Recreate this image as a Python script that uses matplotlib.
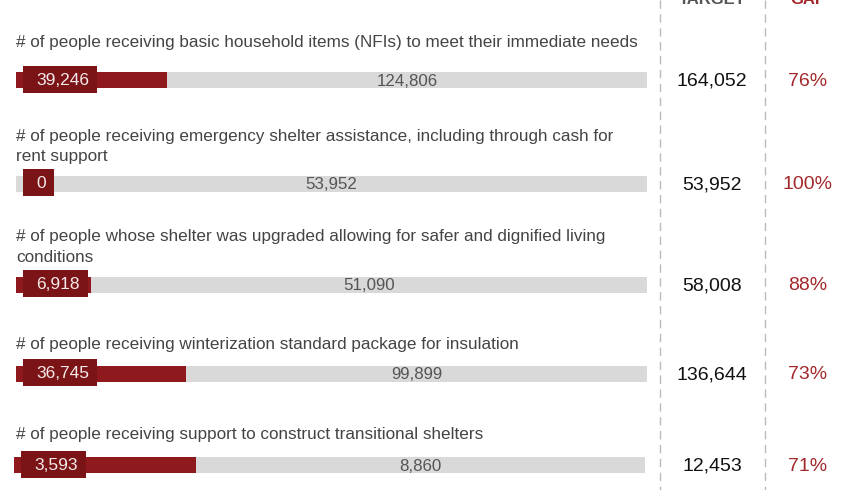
import matplotlib.pyplot as plt
from matplotlib.patches import Rectangle

# Indicator data
indicators = [
    "# of people receiving basic household items (NFIs) to meet their immediate needs",
    "# of people receiving emergency shelter assistance, including through cash for\nrent support",
    "# of people whose shelter was upgraded allowing for safer and dignified living\nconditions",
    "# of people receiving winterization standard package for insulation",
    "# of people receiving support to construct transitional shelters",
]
achieved = [39246, 0, 6918, 36745, 3593]
targets = [164052, 53952, 58008, 136644, 12453]

# layout (pixel coordinates on an 844x490 canvas)
title_y = [43, 146.5, 247, 344, 434]
bar_y = [80.5, 183.5, 284.5, 373.5, 465]
bar_left = [16, 16, 16, 16, 14]
bar_len = 631
bar_h = 16
box_h = 27
target_x = 712
gap_x = 808

RED = "#8e1a1d"
DARK = "#7a1417"
GREY = "#d9d9d9"
GAPRED = "#a3282b"

plt.rcParams["font.family"] = ["Liberation Sans", "DejaVu Sans"]

fig = plt.figure(figsize=(8.44, 4.9), dpi=100)
ax = fig.add_axes([0, 0, 1, 1])
ax.set_xlim(0, 844)
ax.set_ylim(490, 0)
ax.axis("off")
renderer = fig.canvas.get_renderer()

# headers (partly cut off at the top, as in the original)
ax.text(target_x, 7, "TARGET", ha="center", va="bottom", fontsize=12,
        fontweight="bold", color="#555555")
ax.text(gap_x, 7, "GAP", ha="center", va="bottom", fontsize=12,
        fontweight="bold", color=GAPRED)

# dashed separators
for x in [660, 765]:
    ax.plot([x, x], [0, 490], color="#bbbbbb", lw=1, ls=(0, (6, 4)))

for i in range(len(indicators)):
    a = achieved[i]
    t = targets[i]
    remaining = t - a
    frac = a / t
    gap = round(100 * (1 - frac))
    x0 = bar_left[i]

    ax.text(16, title_y[i], indicators[i], ha="left", va="center",
            fontsize=12.3, color="#444444", linespacing=1.45)

    # full target bar and achieved part
    ax.barh(bar_y[i], bar_len, left=x0, height=bar_h, color=GREY)
    ax.barh(bar_y[i], bar_len * frac, left=x0, height=bar_h, color=RED)

    # achieved label box, sized to its text
    lbl = ax.text(0, bar_y[i], f"{a:,}", ha="center", va="center",
                  fontsize=12.5, color="#f4e9e9", zorder=4)
    w = lbl.get_window_extent(renderer).width
    box_w = w + 21
    ax.add_patch(Rectangle((x0 + 7, bar_y[i] - 1 - box_h / 2), box_w, box_h,
                           fc=DARK, ec="none", zorder=3))
    lbl.set_x(x0 + 7 + box_w / 2 + 2.5)

    # remaining label centred in grey part
    rem_mid = x0 + bar_len * (frac + 1) / 2
    ax.text(rem_mid, bar_y[i] + 1, f"{remaining:,}", ha="center", va="center",
            fontsize=12.2, color="#555555")

    ax.text(target_x, bar_y[i] + 1, f"{t:,}", ha="center", va="center",
            fontsize=14, color="#111111")
    ax.text(gap_x, bar_y[i] + 1, f"{gap}%", ha="center", va="center",
            fontsize=14, color=GAPRED)

fig.savefig("out.png", dpi=100)
